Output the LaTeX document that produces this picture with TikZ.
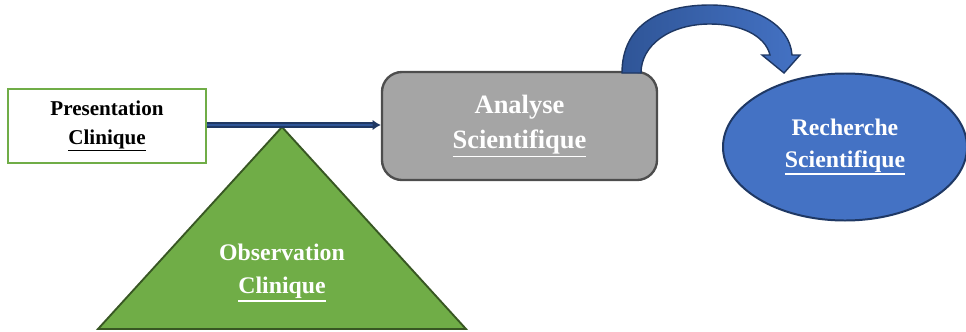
\documentclass[tikz,border=0pt]{standalone}
\usepackage{fontspec}
\setmainfont{Liberation Serif}
\usetikzlibrary{shapes.geometric, arrows.meta}

\definecolor{boxgreen}{HTML}{70AD47}
\definecolor{darkgreen}{HTML}{385723}
\definecolor{boxgray}{HTML}{A5A5A5}
\definecolor{darkgray}{HTML}{4D4D4D}
\definecolor{boxblue}{HTML}{4472C4}
\definecolor{midblue}{HTML}{2F5597}
\definecolor{navy}{HTML}{1F3864}

\newcommand{\ulword}[1]{\setbox0\hbox{#1}\rlap{\rule[-\dimexpr\dp0+2.4pt\relax]{\wd0}{1.3pt}}\box0}

\begin{document}
\begin{tikzpicture}[x = 0.03cm, y = -0.03cm, > = {Latex[length=7pt, width=9pt]}]

	\useasboundingbox (0, 0) rectangle (966, 332);

	\tikzset{
		label/.style = {align = center, inner sep = 0pt, font = \bfseries},
	}

	% triangle
	\draw [fill = boxgreen, draw = darkgreen, line width = 1.6pt, line join = miter]
		(282, 127) -- (466, 329) -- (98, 329) -- cycle;
	\node [label, text = white, font = \bfseries\fontsize{20.3}{28}\selectfont] (obs) at (282, 273)
		{Observation\\\ulword{Clinique}};

	% boxes
	\node [label, draw = boxgreen, fill = white, line width = 1.7pt,
		minimum width = 5.94cm, minimum height = 2.22cm,
		font = \bfseries\fontsize{18}{24.6}\selectfont] (pres) at (107, 126)
		{Presentation\\\ulword{Clinique}};

	\node [label, draw = darkgray, fill = boxgray, line width = 2pt, rounded corners = 0.6cm,
		minimum width = 8.25cm, minimum height = 3.24cm, text = white,
		font = \bfseries\fontsize{22.6}{30.6}\selectfont] (anal) at (519.5, 126)
		{Analyse\\\ulword{Scientifique}};

	\node [label, ellipse, draw = navy, fill = boxblue, line width = 1.7pt,
		minimum width = 7.32cm, minimum height = 4.41cm, text = white,
		font = \bfseries\fontsize{20.3}{27}\selectfont] (rech) at (845, 147)
		{Recherche\\\ulword{Scientifique}};

	% connectors
	\draw [->, draw = navy, double = midblue, double distance = 1.4pt, line width = 1.5pt]
		(pres.east |- 0, 125) -- (anal.west |- 0, 125);

	\draw [draw = navy, line width = 1.2pt, left color = midblue, right color = boxblue, line join = miter]
		(622, 73) .. controls (622, 25) and (660, 5) .. (710, 5)
		.. controls (755, 5) and (790, 25) .. (792, 55)
		-- (800, 55) -- (784, 73) -- (762, 55) -- (770, 55)
		.. controls (765, 35) and (740, 24) .. (710, 24)
		.. controls (670, 24) and (641, 45) .. (641, 73) -- cycle;

\end{tikzpicture}
\end{document}
